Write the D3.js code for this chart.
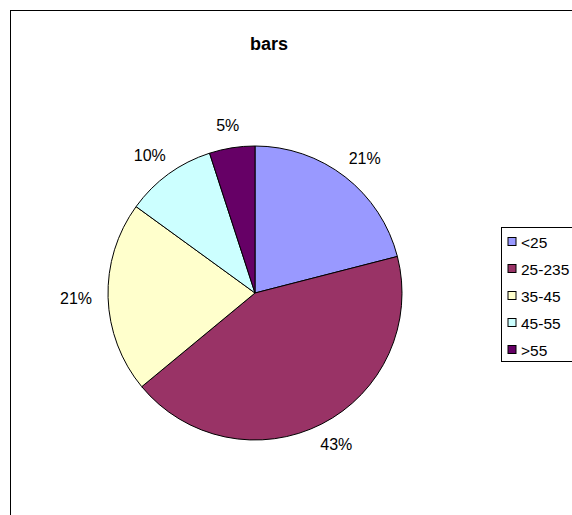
<!DOCTYPE html>
<html>
<head>
<meta charset="utf-8">
<script src="https://cdn.jsdelivr.net/npm/d3@7"></script>
<style>
  html, body { margin: 0; padding: 0; background: #fff; }
  svg { display: block; font-family: "Liberation Sans", Arial, sans-serif; }
</style>
</head>
<body>
<svg id="chart" width="572" height="515"></svg>
<script>
// Age groups and their share of the total (percent)
const categories = ["<25", "25-235", "35-45", "45-55", ">55"];
const shares = [21, 43, 21, 10, 5];
const colors = ["#9999FF", "#993366", "#FFFFCC", "#CCFFFF", "#660066"];
const title = "bars";

const svg = d3.select("#chart");

// Chart frame (runs past the right and bottom edges of the page)
svg.append("rect")
  .attr("x", 10.5).attr("y", 10.5)
  .attr("width", 600).attr("height", 560)
  .attr("fill", "#fff")
  .attr("stroke", "#000")
  .attr("stroke-width", 1);

svg.append("text")
  .attr("x", 269).attr("y", 50)
  .attr("text-anchor", "middle")
  .attr("font-size", 18)
  .attr("font-weight", "bold")
  .text(title);

const cx = 255, cy = 293, radius = 147;
const labelGap = 163;      // radius where the label box begins
const labelHalfH = 7;      // half height of a label box

const pie = d3.pie().sort(null).value(d => d.value);
const data = pie(categories.map((c, i) => ({ cat: c, value: shares[i], color: colors[i] })));
const total = d3.sum(shares);

const arc = d3.arc().innerRadius(0).outerRadius(radius);

const g = svg.append("g").attr("transform", `translate(${cx},${cy})`);

g.selectAll("path.slice")
  .data(data)
  .join("path")
  .attr("class", "slice")
  .attr("d", arc)
  .attr("fill", d => d.data.color)
  .attr("stroke", "#000")
  .attr("stroke-width", 1);

// Percent labels sit outside the pie, pushed out by half their box size
const fmt = d3.format(".0%");
g.selectAll("text.pct")
  .data(data)
  .join("text")
  .attr("class", "pct")
  .attr("text-anchor", "middle")
  .attr("dominant-baseline", "central")
  .attr("font-size", 16)
  .attr("fill", "#000")
  .text(d => fmt(d.data.value / total))
  .attr("transform", function (d) {
    const a = (d.startAngle + d.endAngle) / 2;
    const halfW = this.getComputedTextLength() / 2;
    const x = Math.sin(a) * (labelGap + halfW);
    const y = -Math.cos(a) * (labelGap + labelHalfH);
    return `translate(${x},${y})`;
  });

// Legend
const legend = svg.append("g").attr("transform", "translate(501.5,227.5)");
legend.append("rect")
  .attr("width", 100).attr("height", 134)
  .attr("fill", "#fff")
  .attr("stroke", "#000")
  .attr("stroke-width", 1);

const ly = d3.scalePoint().domain(categories).range([14, 122]);

const items = legend.selectAll("g.item")
  .data(categories.map((c, i) => ({ cat: c, color: colors[i] })))
  .join("g")
  .attr("class", "item")
  .attr("transform", d => `translate(0,${ly(d.cat)})`);

items.append("rect")
  .attr("x", 6.5).attr("y", -4)
  .attr("width", 8).attr("height", 8)
  .attr("fill", d => d.color)
  .attr("stroke", "#000")
  .attr("stroke-width", 1);

items.append("text")
  .attr("x", 19.5).attr("y", 0.5)
  .attr("dominant-baseline", "central")
  .attr("font-size", 15.5)
  .text(d => d.cat);
</script>
</body>
</html>
